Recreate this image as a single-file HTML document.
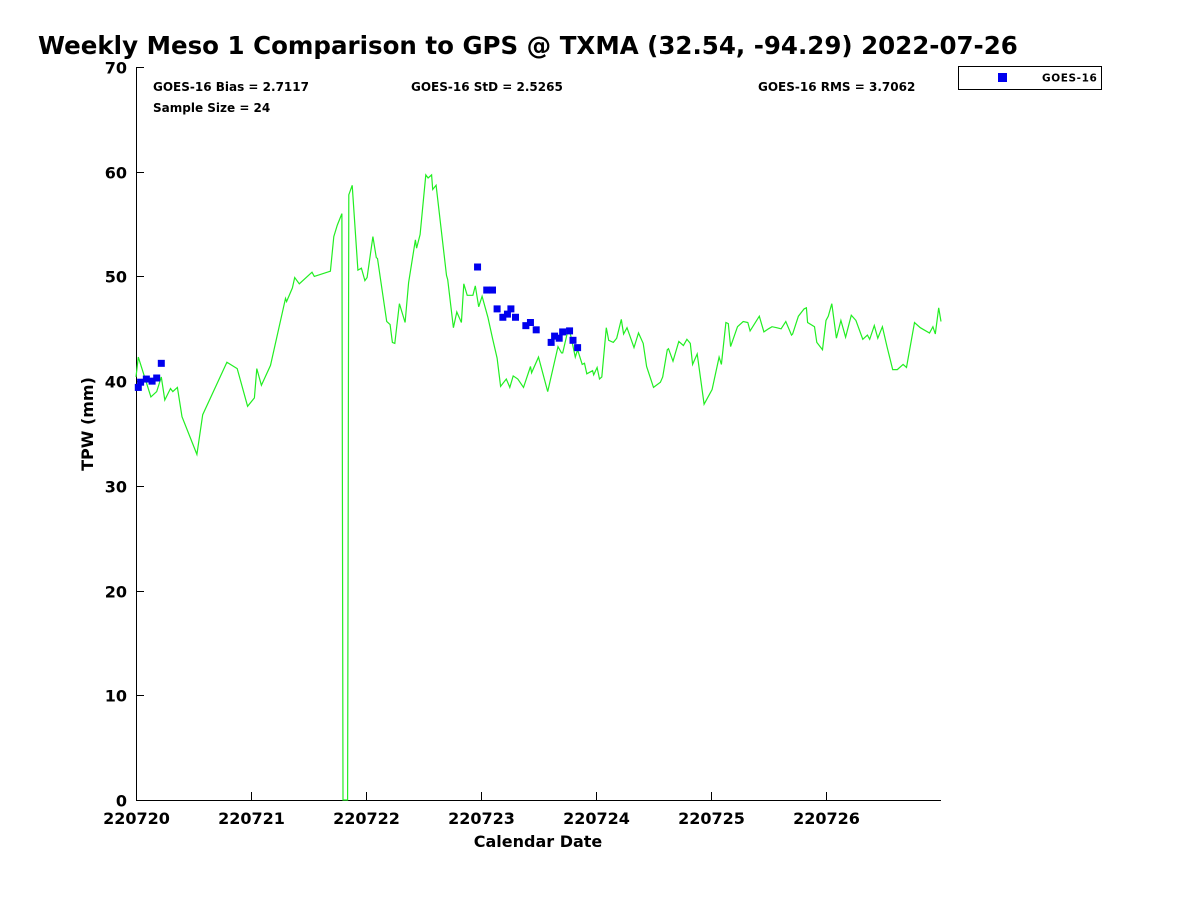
<!DOCTYPE html>
<html><head><meta charset="utf-8"><style>
html,body{margin:0;padding:0;background:#fff;}
svg{display:block;font-family:"DejaVu Sans","Liberation Sans",sans-serif;font-weight:bold;}
</style></head><body>
<svg id="chart" width="1200" height="900" viewBox="0 0 1200 900">
<text x="38" y="54" font-size="24.5" fill="#000">Weekly Meso 1 Comparison to GPS @ TXMA (32.54, -94.29) 2022-07-26</text>
<g id="axes"></g>
<g id="series"></g>
<text x="153" y="91" font-size="12">GOES-16 Bias = 2.7117</text>
<text x="411" y="91" font-size="12">GOES-16 StD = 2.5265</text>
<text x="758" y="91" font-size="12">GOES-16 RMS = 3.7062</text>
<text x="153" y="112" font-size="12">Sample Size = 24</text>
<g>
<rect x="958.5" y="66.5" width="143" height="23" fill="#fff" stroke="#000" stroke-width="1"/>
<rect x="998" y="73" width="9" height="9" fill="#0000ee"/>
<text x="1042" y="81.5" font-size="10.5" letter-spacing="0.6">GOES-16</text>
</g>
<text x="538" y="847" font-size="16" text-anchor="middle">Calendar Date</text>
<text transform="translate(93,424) rotate(-90)" font-size="16" text-anchor="middle">TPW (mm)</text>
</svg>
<script>
const xTickLabels = ["220720","220721","220722","220723","220724","220725","220726"];
const yTicks = [0,10,20,30,40,50,60,70];
const gpsDays = [0,0.02,0.13,0.18,0.22,0.25,0.30,0.32,0.36,0.40,0.53,0.58,0.79,0.88,0.97,1.03,1.05,1.09,1.17,1.30,1.31,1.36,1.38,1.42,1.53,1.55,1.69,1.72,1.75,1.79,1.80,1.82,1.84,1.85,1.88,1.93,1.96,1.99,2.01,2.06,2.09,2.10,2.18,2.21,2.23,2.25,2.29,2.34,2.37,2.43,2.44,2.47,2.52,2.54,2.57,2.58,2.61,2.70,2.71,2.76,2.79,2.83,2.85,2.88,2.93,2.95,2.98,3.01,3.06,3.10,3.14,3.17,3.22,3.25,3.28,3.32,3.37,3.43,3.44,3.50,3.58,3.67,3.70,3.71,3.75,3.77,3.82,3.84,3.88,3.90,3.92,3.97,3.98,4.01,4.03,4.05,4.09,4.11,4.15,4.18,4.22,4.24,4.27,4.33,4.37,4.41,4.44,4.50,4.56,4.58,4.62,4.63,4.67,4.72,4.76,4.79,4.82,4.84,4.88,4.94,5.01,5.07,5.09,5.13,5.15,5.17,5.23,5.28,5.32,5.34,5.42,5.46,5.50,5.53,5.57,5.61,5.65,5.70,5.71,5.76,5.81,5.83,5.84,5.90,5.92,5.97,6.00,6.02,6.05,6.09,6.13,6.17,6.22,6.26,6.32,6.36,6.38,6.42,6.45,6.49,6.53,6.58,6.62,6.67,6.70,6.77,6.82,6.90,6.93,6.95,6.98,7.00];
const gpsTpw = [40.4,42.3,38.5,39.0,40.4,38.2,39.3,39.0,39.4,36.6,33.0,36.8,41.8,41.2,37.6,38.4,41.2,39.6,41.5,47.9,47.6,48.9,49.9,49.3,50.4,50.0,50.5,53.8,54.9,56.0,0,0,0,57.8,58.7,50.6,50.8,49.6,49.9,53.8,51.8,51.7,45.7,45.4,43.7,43.6,47.4,45.6,49.4,53.5,52.7,54.0,59.7,59.4,59.7,58.3,58.7,50.1,49.7,45.1,46.6,45.6,49.3,48.2,48.2,49.1,47.1,48.1,46.1,44.1,42.2,39.5,40.2,39.4,40.5,40.2,39.4,41.4,40.8,42.3,39.0,43.3,42.7,42.7,44.6,44.9,42.3,43.0,41.6,41.7,40.7,41.0,40.6,41.3,40.2,40.4,45.1,43.9,43.7,44.1,45.9,44.5,45.1,43.2,44.6,43.6,41.4,39.4,39.9,40.4,43.0,43.1,41.9,43.8,43.4,44.0,43.6,41.6,42.6,37.8,39.2,42.3,41.6,45.6,45.5,43.3,45.2,45.7,45.6,44.8,46.2,44.7,45.0,45.2,45.1,45.0,45.7,44.4,44.5,46.2,46.9,47.0,45.6,45.2,43.7,43.0,45.8,46.2,47.4,44.1,45.8,44.2,46.3,45.8,44.0,44.4,44.0,45.3,44.1,45.2,43.3,41.1,41.1,41.6,41.3,45.6,45.1,44.6,45.2,44.5,47.0,45.7];
const goesDays = [0.02,0.04,0.09,0.14,0.18,0.22,2.97,3.05,3.10,3.14,3.19,3.23,3.26,3.30,3.39,3.43,3.48,3.61,3.64,3.68,3.71,3.77,3.80,3.84];
const goesTpw = [39.4,39.9,40.2,40.0,40.3,41.7,50.9,48.7,48.7,46.9,46.1,46.4,46.9,46.1,45.3,45.6,44.9,43.7,44.3,44.1,44.7,44.8,43.9,43.2];

const X0=136, X1=941, Y0=800, Y1=67;
const xScale = d => X0 + d*(X1-X0)/7;
const yScale = v => Y0 - v*(Y0-Y1)/70;
const NS="http://www.w3.org/2000/svg";
const axes=document.getElementById('axes'), series=document.getElementById('series');
function mk(tag, attrs, parent){const e=document.createElementNS(NS,tag);for(const k in attrs)e.setAttribute(k,attrs[k]);parent.appendChild(e);return e;}

const ax=mk('path',{d:`M${X0+0.5},${Y1} V${Y0+0.5} H${X1}`,stroke:'#000','stroke-width':1,fill:'none'},axes);


yTicks.forEach(v=>{
  const y=Math.round(yScale(v))+0.5;
  const t=mk('line',{x1:X0,x2:X0+8,y1:y,y2:y,stroke:'#000'},axes);
  
  
  const l=mk('text',{x:X0-9,y:y+6,'font-size':16,'text-anchor':'end'},axes);
  
  
  l.textContent=v;
});
xTickLabels.forEach((s,i)=>{
  const x=Math.round(xScale(i))+0.5;
  const t=mk('line',{x1:x,x2:x,y1:Y0,y2:Y0-8,stroke:'#000'},axes);
  
  
  const l=mk('text',{x:x,y:824,'font-size':16,'text-anchor':'middle'},axes);
  
  
  l.textContent=s;
});
const pts=gpsDays.map((d,i)=>xScale(d).toFixed(1)+','+yScale(gpsTpw[i]).toFixed(1)).join(' ');
const line=mk('polyline',{points:pts,fill:'none',stroke:'#22ee22','stroke-width':1.2},series);


goesDays.forEach((d,i)=>{
  const r=mk('rect',{x:xScale(d)-3.5,y:yScale(goesTpw[i])-3.5,width:7,height:7,fill:'#0000ee'},series);
  
  
});
</script>
</body></html>
